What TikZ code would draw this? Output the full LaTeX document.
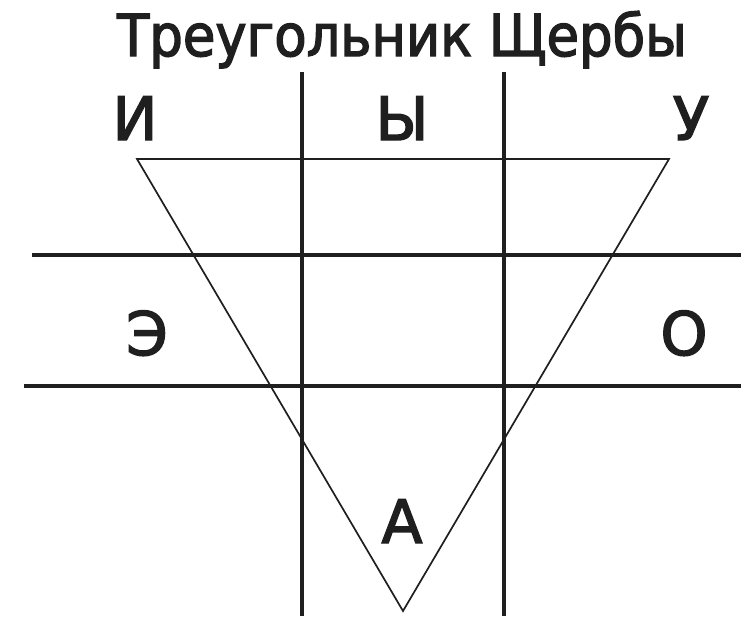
\documentclass[tikz,border=0pt]{standalone}
\usepackage{fontspec}
\setmainfont{DejaVu Sans}[FakeBold=2.4]
\newfontfamily\titlefont{DejaVu Sans}[FakeBold=2.4,FakeStretch=0.91]
\begin{document}
\begin{tikzpicture}[x=1pt,y=-1pt,
  letter/.style={anchor=base,inner sep=0pt,text=black!88,font=\fontsize{60}{60}\selectfont},
  thick line/.style={line width=3.8pt,color=black!88},
  mid line/.style={line width=3.4pt,color=black!88},
  tri/.style={line width=1.7pt,color=black!88,line join=miter}]
\useasboundingbox (0,0) rectangle (741,619);
\node[letter,font=\titlefont\fontsize{58}{58}\selectfont] (title) at (402,56) {Треугольник Щербы};
\node[letter] (i) at (135,140) {И};
\node[letter] (y) at (402,140) {Ы};
\node[letter] (u) at (691,140) {У};
\node[letter] (e) at (147,355) {Э};
\node[letter] (o) at (684,355) {О};
\node[letter] (a) at (402,543) {А};
\coordinate (v1t) at (302,72); \coordinate (v1b) at (302,616);
\coordinate (v2t) at (504,72); \coordinate (v2b) at (504,616);
\coordinate (h1l) at (32,255); \coordinate (h1r) at (741,255);
\coordinate (h2l) at (24,386); \coordinate (h2r) at (741,386);
\coordinate (tl) at (137,159); \coordinate (tr) at (669,159); \coordinate (tb) at (403,611);
\draw[thick line] (v1t) -- (v1b);
\draw[thick line] (v2t) -- (v2b);
\draw[mid line] (h1l) -- (h1r);
\draw[mid line] (h2l) -- (h2r);
\draw[tri] (tl) -- (tr) -- (tb) -- cycle;
\end{tikzpicture}
\end{document}
